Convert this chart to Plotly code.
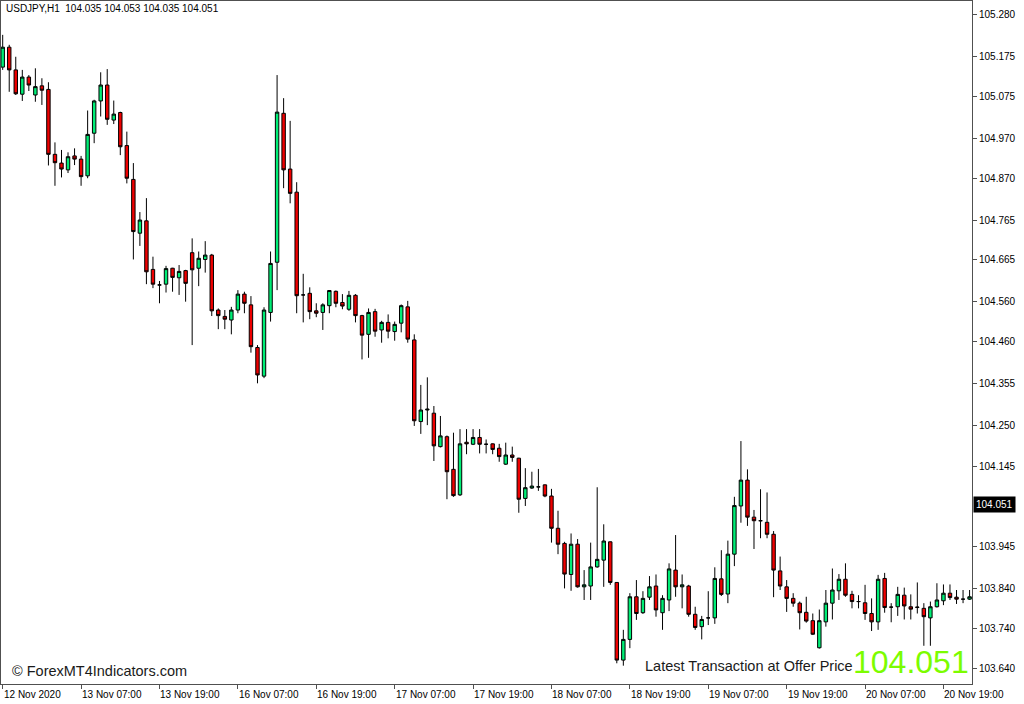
import pandas as pd
import plotly.graph_objects as go

# ---- data (USDJPY H1) ----
open_ = [105.149,105.199,105.142,105.081,105.124,105.079,105.102,105.093,104.930,104.908,
         104.891,104.926,104.918,104.876,104.983,105.064,105.104,105.016,105.035,104.952,
         104.867,104.732,104.763,104.641,104.602,104.604,104.644,104.620,104.638,104.683,
         104.644,104.666,104.677,104.539,104.523,104.514,104.539,104.579,104.552,104.445,
         104.373,104.533,104.659,105.033,104.893,104.835,104.577,104.581,104.537,104.533,
         104.550,104.586,104.558,104.541,104.576,104.525,104.478,104.535,104.489,104.508,
         104.485,104.506,104.547,104.464,104.259,104.288,104.280,104.196,104.221,104.139,
         104.075,104.207,104.202,104.219,104.202,104.203,104.192,104.152,104.175,104.167,
         104.066,104.092,104.095,104.100,104.072,103.991,103.953,103.875,103.951,103.844,
         103.846,103.894,103.911,103.957,103.855,103.660,103.712,103.819,103.779,103.818,
         103.846,103.779,103.811,103.886,103.844,103.846,103.775,103.744,103.766,103.766,
         103.864,103.826,103.926,104.047,104.112,104.019,104.010,104.006,103.976,103.884,
         103.844,103.815,103.803,103.780,103.759,103.691,103.756,103.803,103.834,103.863,
         103.825,103.807,103.804,103.777,103.756,103.865,103.793,103.794,103.823,103.794,
         103.792,103.790,103.766,103.794,103.809,103.828,103.818,103.813,103.813]
high = [105.230,105.205,105.175,105.142,105.129,105.146,105.121,105.111,104.960,104.941,
        104.935,104.945,104.926,105.040,105.067,105.136,105.144,105.065,105.037,104.987,
        104.908,104.785,104.820,104.673,104.612,104.650,104.645,104.652,104.640,104.719,
        104.686,104.712,104.680,104.543,104.539,104.547,104.589,104.585,104.574,104.451,
        104.546,104.686,105.129,105.071,105.014,104.860,104.630,104.596,104.556,104.556,
        104.589,104.588,104.579,104.587,104.579,104.527,104.543,104.542,104.512,104.528,
        104.510,104.553,104.562,104.478,104.351,104.370,104.298,104.273,104.224,104.231,
        104.240,104.240,104.240,104.240,104.214,104.204,104.203,104.206,104.196,104.168,
        104.142,104.133,104.140,104.101,104.090,104.035,103.957,103.978,103.964,103.886,
        103.955,104.094,104.001,103.958,103.856,103.736,103.828,103.861,103.833,103.871,
        103.875,103.823,103.903,103.974,103.875,103.849,103.794,103.771,103.833,103.893,
        103.936,103.960,104.070,104.210,104.139,104.037,104.089,104.081,103.984,103.920,
        103.861,103.828,103.807,103.819,103.777,103.787,103.836,103.890,103.876,103.903,
        103.834,103.823,103.849,103.815,103.874,103.879,103.803,103.844,103.842,103.825,
        103.855,103.803,103.807,103.853,103.850,103.850,103.836,103.836,103.836]
low = [105.142,105.087,105.079,105.064,105.089,105.062,105.054,104.902,104.851,104.872,
       104.883,104.903,104.851,104.870,104.958,105.025,105.004,105.006,104.928,104.857,
       104.666,104.700,104.604,104.594,104.556,104.583,104.585,104.577,104.560,104.451,
       104.599,104.633,104.524,104.491,104.491,104.478,104.531,104.531,104.432,104.355,
       104.368,104.510,104.589,104.845,104.807,104.531,104.508,104.516,104.521,104.489,
       104.531,104.546,104.541,104.537,104.508,104.415,104.419,104.472,104.457,104.468,
       104.462,104.483,104.457,104.248,104.228,104.250,104.160,104.194,104.064,104.070,
       104.072,104.177,104.200,104.179,104.179,104.177,104.158,104.150,104.158,104.030,
       104.047,104.090,104.085,104.069,103.955,103.926,103.840,103.834,103.842,103.811,
       103.811,103.892,103.844,103.849,103.652,103.646,103.690,103.761,103.776,103.811,
       103.769,103.736,103.783,103.819,103.790,103.769,103.736,103.712,103.748,103.751,
       103.821,103.803,103.896,104.005,103.997,103.939,103.966,103.966,103.818,103.836,
       103.781,103.794,103.737,103.754,103.723,103.689,103.744,103.762,103.811,103.819,
       103.790,103.790,103.761,103.733,103.736,103.779,103.755,103.771,103.762,103.762,
       103.777,103.696,103.696,103.792,103.798,103.811,103.801,103.803,103.811]
close = [105.199,105.142,105.082,105.124,105.104,105.100,105.091,104.930,104.909,104.893,
         104.924,104.918,104.874,104.980,105.064,105.104,105.018,105.031,104.949,104.870,
         104.736,104.765,104.635,104.604,104.602,104.643,104.621,104.636,104.606,104.640,
         104.669,104.677,104.537,104.525,104.516,104.539,104.579,104.556,104.447,104.376,
         104.539,104.656,105.036,104.891,104.832,104.575,104.577,104.535,104.531,104.552,
         104.588,104.556,104.549,104.576,104.525,104.476,104.533,104.486,104.508,104.486,
         104.503,104.550,104.466,104.261,104.288,104.290,104.198,104.223,104.133,104.073,
         104.203,104.203,104.219,104.202,104.202,104.189,104.171,104.175,104.169,104.064,
         104.093,104.097,104.095,104.072,103.991,103.951,103.876,103.951,103.844,103.849,
         103.894,103.913,103.959,103.855,103.660,103.712,103.819,103.777,103.815,103.844,
         103.786,103.815,103.889,103.844,103.849,103.775,103.742,103.762,103.766,103.865,
         103.825,103.926,104.048,104.112,104.019,104.010,104.010,103.976,103.886,103.846,
         103.815,103.803,103.779,103.758,103.725,103.759,103.803,103.836,103.863,103.823,
         103.807,103.807,103.777,103.756,103.863,103.792,103.793,103.825,103.796,103.788,
         103.793,103.769,103.794,103.811,103.828,103.817,103.813,103.813,103.819]

price_ticks = [105.280, 105.175, 105.075, 104.970, 104.870, 104.765, 104.665, 104.560,
               104.460, 104.355, 104.250, 104.145, 103.945, 103.840, 103.740, 103.640]
date_labels = ["12 Nov 2020", "13 Nov 07:00", "13 Nov 19:00", "16 Nov 07:00", "16 Nov 19:00",
               "17 Nov 07:00", "17 Nov 19:00", "18 Nov 07:00", "18 Nov 19:00", "19 Nov 07:00",
               "19 Nov 19:00", "20 Nov 07:00", "20 Nov 19:00"]
header = "USDJPY,H1  104.035 104.053 104.035 104.051"
last_price = 104.051

# bar times (hourly, trading days only) -> index positions for date labels
times = pd.date_range("2020-11-12 19:00", "2020-11-20 23:00", freq="h")
times = times[times.weekday < 5]
x = list(range(len(times)))
label_idx = [0] + [i for i, t in enumerate(times) if t.hour in (7, 19) and i > 0]

font = "Liberation Sans, Arial, sans-serif"
fig = go.Figure()
fig.add_trace(go.Candlestick(
    x=x, open=open_, high=high, low=low, close=close,
    increasing=dict(fillcolor="#00ee76", line=dict(color="#000000", width=1)),
    decreasing=dict(fillcolor="#ee0000", line=dict(color="#000000", width=1)),
    whiskerwidth=0, showlegend=False, hoverinfo="skip"))

annotations = []
for i, lab in zip(label_idx, date_labels):
    annotations.append(dict(x=i, y=0, xref="x", yref="paper", text=lab, showarrow=False,
                            xanchor="left", yanchor="top", yshift=-3, xshift=-1,
                            font=dict(family=font, size=10, color="#000")))
annotations += [
    dict(x=0, y=1, xref="paper", yref="paper", text=header, showarrow=False,
         xanchor="left", yanchor="top", xshift=3, yshift=0,
         font=dict(family=font, size=10, color="#000")),
    dict(x=1, y=last_price, xref="paper", yref="y", text=f"{last_price:.3f}", showarrow=False,
         xanchor="left", yanchor="middle", xshift=1, bgcolor="#000000", borderpad=2,
         font=dict(family=font, size=10, color="#ffffff")),
    dict(x=0, y=0, xref="paper", yref="paper", text="© ForexMT4Indicators.com", showarrow=False,
         xanchor="left", yanchor="bottom", xshift=9, yshift=3,
         font=dict(family=font, size=14.5, color="#1a1a1a")),
    dict(x=1, y=0, xref="paper", yref="paper", text=f"{last_price:.3f}", showarrow=False,
         xanchor="right", yanchor="bottom", xshift=-1, yshift=2,
         font=dict(family=font, size=32, color="#7cfc00")),
    dict(x=1, y=0, xref="paper", yref="paper", text="Latest Transaction at Offer Price",
         showarrow=False, xanchor="right", yanchor="bottom", xshift=-117, yshift=8,
         font=dict(family=font, size=14.5, color="#1a1a1a")),
]

fig.update_layout(
    width=1024, height=704,
    margin=dict(l=1, r=52, t=1, b=20),
    paper_bgcolor="#ffffff", plot_bgcolor="#ffffff",
    boxgap=0.3, boxgroupgap=0.25,
    annotations=annotations,
    xaxis=dict(range=[-0.26, 148.37], rangeslider=dict(visible=False), showgrid=False,
               zeroline=False, showline=True, linecolor="#505050", linewidth=1, mirror=True,
               tickmode="array", tickvals=label_idx, ticktext=[""] * len(label_idx),
               ticks="outside", ticklen=4, tickcolor="#505050", showticklabels=False,
               fixedrange=True),
    yaxis=dict(range=[103.600, 105.315], side="right", showgrid=False, zeroline=False,
               showline=True, linecolor="#505050", linewidth=1, mirror=True,
               tickmode="array", tickvals=price_ticks, tickformat=".3f",
               ticks="outside", ticklen=4, tickcolor="#505050",
               tickfont=dict(family=font, size=10, color="#000")),
)

fig.write_html("out.html", config={"displayModeBar": False},
               post_script="document.body.style.margin='0';document.body.style.overflow='hidden';")
